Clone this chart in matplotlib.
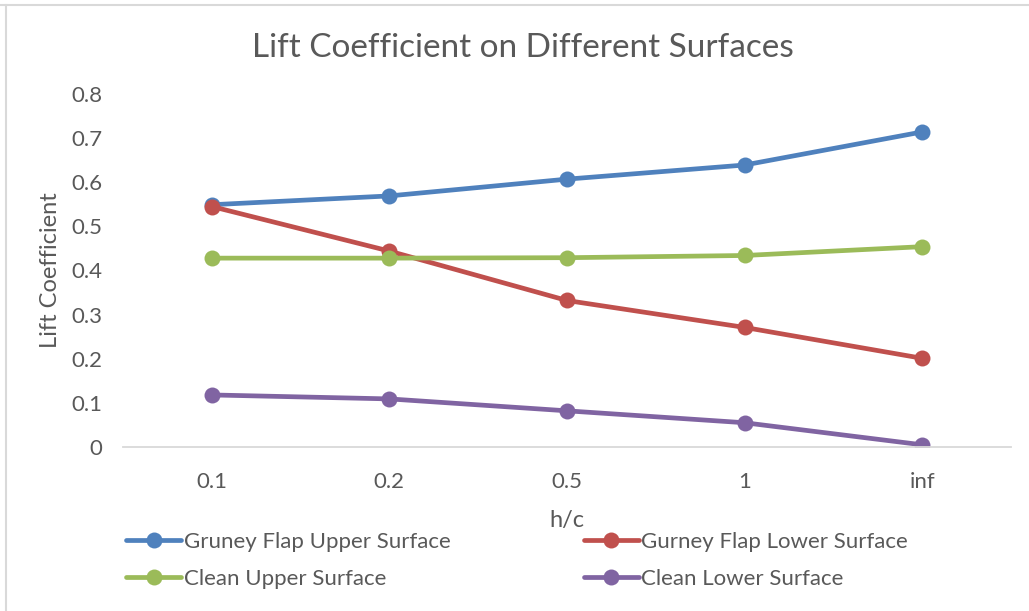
import matplotlib
matplotlib.use("Agg")
import matplotlib.pyplot as plt
from matplotlib.lines import Line2D
import numpy as np

plt.rcParams['font.family'] = ['Lato', 'DejaVu Sans']

# h/c cases and lift coefficients for each surface
h_c = ['0.1', '0.2', '0.5', '1', 'inf']
gurney_upper = [0.549, 0.569, 0.607, 0.639, 0.714]
gurney_lower = [0.545, 0.444, 0.332, 0.271, 0.201]
clean_upper = [0.428, 0.428, 0.429, 0.434, 0.454]
clean_lower = [0.118, 0.109, 0.082, 0.055, 0.005]

series = [
    ('Gruney Flap Upper Surface', gurney_upper, '#4F81BD'),
    ('Gurney Flap Lower Surface', gurney_lower, '#C0504D'),
    ('Clean Upper Surface', clean_upper, '#9BBB59'),
    ('Clean Lower Surface', clean_lower, '#8064A2'),
]

txt = '#595959'

fig = plt.figure(figsize=(10.29, 6.11), dpi=100)
ax = fig.add_axes([0.1195, 0.2684, 0.863, 0.5778])

x = np.arange(len(h_c))
handles = {}
for name, vals, col in series:
    ln, = ax.plot(x, vals, color=col, linewidth=3.4, marker='o', markersize=11.5,
                  markeredgewidth=0, solid_capstyle='round', label=name)
    handles[name] = ln

ax.set_xlim(-0.5, len(h_c) - 0.5)
ax.set_ylim(0, 0.8)
ax.set_yticks(np.arange(0, 0.81, 0.1))
ax.set_yticklabels(['0', '0.1', '0.2', '0.3', '0.4', '0.5', '0.6', '0.7', '0.8'])
ax.set_xticks(x)
ax.set_xticklabels(h_c)
ax.tick_params(length=0, colors=txt, labelsize=16)
ax.tick_params(axis='y', pad=15)
ax.tick_params(axis='x', pad=18)

for s in ['top', 'right', 'left']:
    ax.spines[s].set_visible(False)
ax.spines['bottom'].set_color('#d9d9d9')
ax.spines['bottom'].set_linewidth(1.3)

ax.set_xlabel('h/c', fontsize=17, color=txt, labelpad=13)
ax.set_ylabel('Lift Coefficient', fontsize=17, color=txt, labelpad=7)
fig.text(0.508, 0.921, 'Lift Coefficient on Different Surfaces', ha='center', va='center',
         fontsize=24, color=txt)

order = ['Gruney Flap Upper Surface', 'Clean Upper Surface',
         'Gurney Flap Lower Surface', 'Clean Lower Surface']
fig.legend([handles[n] for n in order], order, ncol=2, loc='center left',
           bbox_to_anchor=(0.1115, 0.083), frameon=False, fontsize=16,
           labelcolor=txt, handlelength=2.5, handletextpad=0.1,
           columnspacing=6.0, labelspacing=0.75, borderpad=0)

# chart frame edges
fig.add_artist(Line2D([0, 1], [0.9925, 0.9925], color='#d9d9d9', linewidth=1.5,
                      transform=fig.transFigure))
fig.add_artist(Line2D([0.0063, 0.0063], [0, 0.9925], color='#d9d9d9', linewidth=1.5,
                      transform=fig.transFigure))

fig.savefig('out.png', dpi=100, facecolor='white')
